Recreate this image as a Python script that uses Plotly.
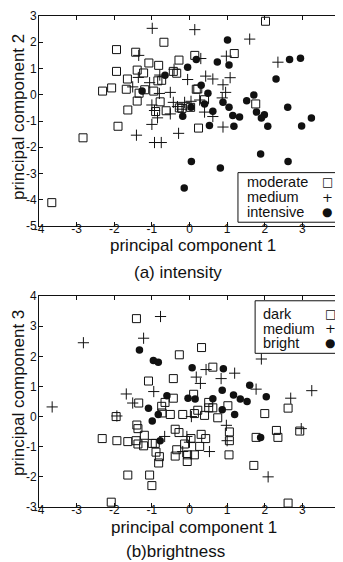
import plotly.graph_objects as go

# ---------------- data: (a) intensity ----------------
moderate_x = [2.02, -0.68, -1.94, -1.43, 0.14, 1.19, -0.28, -1.08, -0.82, -1.94, -1.39, -1.22, -1.65,
              -0.74, -0.84, -0.43, -0.34, -2.31, -2.07, -1.68, -1.19, -1.34, -0.95, 0.18, 0.22, -1.39,
              -0.78, 0.40, 1.76, -1.64, -0.90, -0.62, -0.27, -0.20, 0.03, -1.90, 0.24, -2.83, -3.66]
moderate_y = [2.80, 2.00, 1.72, 1.62, 1.50, 1.57, 1.32, 1.21, 1.12, 0.89, 0.94, 0.83, 0.60,
              0.55, 0.53, 0.89, 0.82, 0.14, 0.26, 0.21, 0.19, 0.06, 0.14, 0.21, 0.22, -0.24,
              -0.27, -0.19, -0.35, -0.58, -0.64, -0.61, -0.50, -0.52, -0.48, -1.20, -1.27, -1.64, -4.11]

medium_a_x = [-0.99, 0.14, 1.60, -1.35, 0.30, 0.98, 2.35, -1.36, -0.79, -0.41, -0.05, 0.43, 0.62, 1.08,
              -1.06, -1.51, -0.80, -0.51, 0.89, 0.96, 0.87, -1.00, -0.43, -0.13, 0.04, 0.27, -0.93,
              -0.51, -0.85, 0.40, 0.62, -1.00, 0.89, -0.29, -1.41, -0.93, -0.75, -0.20, -0.32]
medium_a_y = [2.53, 2.48, 2.12, 1.50, 1.38, 1.47, 1.24, 0.66, 0.75, 0.97, 0.58, 0.71, 0.60, 0.65,
              0.46, 0.30, 0.05, 0.09, 0.38, 0.09, -0.12, -0.39, -0.29, -0.29, -0.25, -0.20, -0.60,
              -0.73, -0.88, -0.66, -0.83, -1.13, -1.23, -1.47, -1.54, -1.82, -1.82, -0.55, -0.45]

intensive_x = [1.01, 0.18, 0.74, 1.05, -0.05, 2.66, 2.95, -0.65, 2.30, 0.31, -1.26, 0.49, 1.71, 1.52,
               0.89, 0.40, 0.04, 1.05, 2.61, 0.62, -0.18, 1.15, 1.33, 1.78, 1.99, 1.91, 3.24, 0.53,
               1.18, 2.08, 2.98, 0.05, 0.82, 1.89, 2.62, -0.14]
intensive_y = [2.09, 1.34, 1.25, 1.13, 1.05, 1.34, 1.39, 0.74, 0.60, 0.36, 0.14, 0.06, -0.01, -0.23,
               -0.29, -0.35, -0.48, -0.48, -0.48, -0.63, -0.82, -0.79, -0.85, -0.66, -0.76, -0.89, -0.89, -1.17,
               -1.20, -1.20, -1.19, -2.54, -2.79, -2.26, -2.54, -3.55]

# ---------------- data: (b) brightness ----------------
dark_x = [-1.41, -0.27, 0.32, 0.62, -0.43, -1.09, -0.43, 0.11, -1.35, -0.65, -0.74, 0.51, 1.02, 0.62,
          0.51, 0.22, 2.62, -1.95, -0.73, -0.51, -0.18, 0.13, 0.40, 2.00, 0.75, -1.40, -1.37, -2.32,
          -1.93, -1.64, -1.20, -1.42, -1.37, -1.22, -0.99, -0.91, -0.89, -0.80, -0.82, -0.38, -0.28,
          0.04, -0.13, -0.34, -0.38, -0.06, -0.05, 0.13, 0.27, 0.31, 0.43, 1.06, 1.06, 1.05, 1.71,
          1.77, 2.31, 2.35, 2.93, -1.64, -1.06, -1.00, -2.08, 2.62]
dark_y = [3.25, 2.05, 2.29, 1.64, 1.26, 1.18, 0.61, 0.74, 0.45, 0.47, 0.34, 0.47, 0.36, 0.29,
          0.29, 0.21, 0.28, 0.00, 0.12, 0.07, 0.07, 0.10, 0.04, 0.10, -0.04, -0.28, -0.40, -0.73,
          -0.80, -0.83, -0.62, -0.80, -0.91, -0.97, -0.89, -0.89, -1.18, -1.33, -1.54, -0.42, -0.53,
          -0.73, -0.91, -1.10, -1.31, -1.49, -1.27, -1.27, -0.99, -0.59, -0.73, -0.51, -0.80, -1.27, -1.62,
          -0.69, -0.46, -0.69, -0.48, -1.94, -1.94, -2.29, -2.84, -2.87]

medium_b_x = [-0.77, -2.82, -1.22, 1.91, 0.44, 1.20, 0.18, 0.84, 0.29, 1.77, 3.25, -1.68, -0.95, 2.69,
              -3.65, -1.51, -1.93, 0.05, -0.66, -0.07, 0.00, -0.18, 0.53, 0.98, 1.00, 2.97, 2.09]
medium_b_y = [3.32, 2.45, 2.60, 1.91, 1.56, 1.44, 1.31, 1.26, 1.10, 0.91, 0.86, 0.75, 0.83, 0.61,
              0.32, 0.45, 0.02, 0.00, -0.66, -0.66, -0.85, -1.16, -1.16, -0.29, -0.80, -0.40, -2.00]

bright_x = [-1.33, -0.96, -0.83, 0.07, 0.90, 1.60, 0.87, -0.60, -0.04, 0.15, 0.62, 1.17, 1.35, 1.53,
            2.04, -1.09, -0.83, 1.20, 0.87, -0.99, -0.78, 1.89]
bright_y = [2.21, 1.86, 1.80, 1.62, 1.59, 1.04, 0.87, 0.69, 0.61, 0.58, 0.59, 0.72, 0.58, 0.50,
            0.66, 0.28, 0.07, 0.07, 0.23, -0.15, -0.80, -0.69]

x_ticks = [-4, -3, -2, -1, 0, 1, 2, 3, 4]
x_ticklabels = ["-4", "-3", "-2", "-1", "0", "1", "2", "3", "4"]
ya_ticks = [-5, -4, -3, -2, -1, 0, 1, 2, 3]
ya_ticklabels = ["-5", "-4", "-3", "-2", "-1", "0", "1", "2", "3"]
yb_ticks = [-3, -2, -1, 0, 1, 2, 3, 4]
yb_ticklabels = ["-3", "-2", "-1", "0", "1", "2", "3", "4"]

legend_a = ["moderate", "medium", "intensive"]
legend_b = ["dark", "medium", "bright"]
legend_symbols = ["\u25a1", "+", "\u25cf"]

FONT = "Liberation Sans, Arial, sans-serif"
INK = "#111111"

sq = dict(symbol="square-open", size=8, color=INK, line=dict(width=1, color=INK))
pl = dict(symbol="cross-thin-open", size=8, color=INK, line=dict(width=1, color=INK))
ci = dict(symbol="circle", size=7.5, color=INK, line=dict(width=0))

fig = go.Figure()
fig.add_trace(go.Scatter(x=moderate_x, y=moderate_y, mode="markers", marker=sq, xaxis="x", yaxis="y", showlegend=False))
fig.add_trace(go.Scatter(x=medium_a_x, y=medium_a_y, mode="markers", marker=pl, xaxis="x", yaxis="y", showlegend=False))
fig.add_trace(go.Scatter(x=intensive_x, y=intensive_y, mode="markers", marker=ci, xaxis="x", yaxis="y", showlegend=False))
fig.add_trace(go.Scatter(x=dark_x, y=dark_y, mode="markers", marker=sq, xaxis="x2", yaxis="y2", showlegend=False))
fig.add_trace(go.Scatter(x=medium_b_x, y=medium_b_y, mode="markers", marker=pl, xaxis="x2", yaxis="y2", showlegend=False))
fig.add_trace(go.Scatter(x=bright_x, y=bright_y, mode="markers", marker=ci, xaxis="x2", yaxis="y2", showlegend=False))

axis_common = dict(showline=True, linecolor=INK, linewidth=1, mirror="ticks", ticks="inside",
                   ticklen=4, tickcolor=INK, showgrid=False, zeroline=False,
                   tickfont=dict(family=FONT, size=12, color=INK), fixedrange=True)

# page body has an 8px default margin: the figure is sized/offset to compensate
fig.update_layout(
    width=335, height=554,
    margin=dict(l=31, r=3, t=1, b=55),
    paper_bgcolor="white", plot_bgcolor="white",
    showlegend=False,
    xaxis=dict(domain=[0, 1], range=[-4, 4], anchor="y", tickvals=x_ticks, ticktext=x_ticklabels,
               ticklabelstandoff=-8, **axis_common),
    yaxis=dict(domain=[0.5723, 1.0], range=[-5, 3], anchor="x", tickvals=ya_ticks, ticktext=ya_ticklabels,
               ticklabelstandoff=-1, **axis_common),
    xaxis2=dict(domain=[0, 1], range=[-4, 4], anchor="y2", tickvals=x_ticks, ticktext=x_ticklabels,
                ticklabelstandoff=-8, **axis_common),
    yaxis2=dict(domain=[0, 0.4297], range=[-3, 4], anchor="x2", tickvals=yb_ticks, ticktext=yb_ticklabels,
                ticklabelstandoff=-1, **axis_common),
)

def ann(text, x, y, size=17, xanchor="center", yanchor="middle", angle=0, family=FONT):
    fig.add_annotation(text=text, x=x, y=y, xref="paper", yref="paper", showarrow=False,
                       xanchor=xanchor, yanchor=yanchor, textangle=angle,
                       font=dict(family=family, size=size, color=INK))

# axis titles and captions
ann("principal component 1", 0.51, 0.532)
ann("(a) intensity", 0.463, 0.477)
ann("principal component 1", 0.515, -0.041)
ann("(b)brightness", 0.454, -0.091)
ann("principal component 2", -0.07, 0.794, angle=-90)
ann("principal component 3", -0.07, 0.232, angle=-90)

# legend (a)
fig.add_shape(type="rect", xref="paper", yref="paper", x0=0.661, x1=0.998, y0=0.580, y1=0.681,
              line=dict(color=INK, width=1), fillcolor="white")
for label, sym, yy in zip(legend_a, legend_symbols, [0.661, 0.631, 0.600]):
    ann(label, 0.684, yy, size=14.5, xanchor="left")
    ann(sym, 0.957, yy, size=12 if sym != "+" else 13, family="DejaVu Sans")

# legend (b)
fig.add_shape(type="rect", xref="paper", yref="paper", x0=0.718, x1=0.998, y0=0.313, y1=0.420,
              line=dict(color=INK, width=1), fillcolor="white")
for label, sym, yy in zip(legend_b, legend_symbols, [0.393, 0.363, 0.333]):
    ann(label, 0.738, yy, size=14.5, xanchor="left")
    ann(sym, 0.968, yy, size=12 if sym != "+" else 13, family="DejaVu Sans")

fig.write_html("out.html")
